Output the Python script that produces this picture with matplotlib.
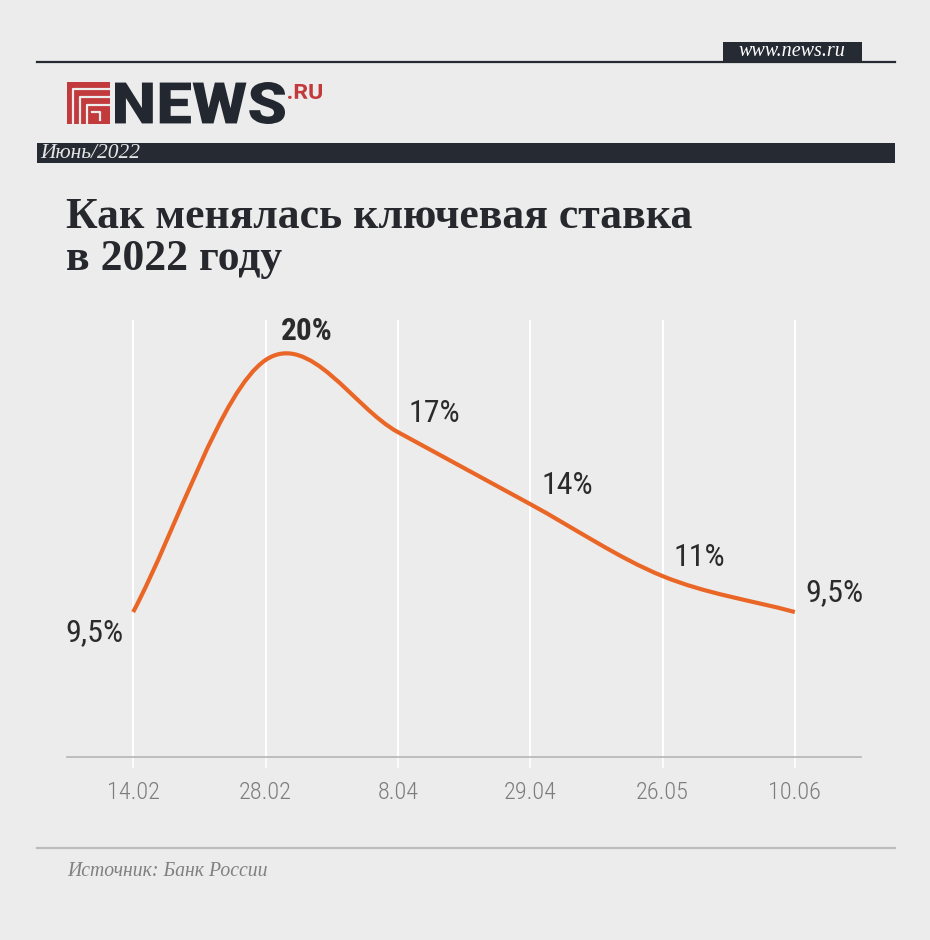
import matplotlib
matplotlib.use('Agg')
import matplotlib.pyplot as plt
from matplotlib.path import Path
from matplotlib.patches import PathPatch, Rectangle
from matplotlib.textpath import TextPath
from matplotlib.font_manager import FontProperties
from matplotlib.transforms import Affine2D

dates = ['14.02', '28.02', '8.04', '29.04', '26.05', '10.06']
rates = [9.5, 20, 17, 14, 11, 9.5]
rate_labels = ['9,5%', '20%', '17%', '14%', '11%', '9,5%']

BG = '#ececec'
DARK = '#262a33'
ORANGE = '#ea6626'
RED = '#c23a3c'
SANS = ['Roboto Condensed', 'Liberation Sans', 'DejaVu Sans']


def smooth_path(xs, ys):
    # Catmull-Rom tangents turned into cubic Bezier segments
    n = len(xs)
    m = []
    for i in range(n):
        a = max(i - 1, 0)
        b = min(i + 1, n - 1)
        k = 0.5 if 0 < i < n - 1 else 1.0
        m.append(((xs[b] - xs[a]) * k, (ys[b] - ys[a]) * k))
    verts = [(xs[0], ys[0])]
    codes = [Path.MOVETO]
    for i in range(n - 1):
        verts.append((xs[i] + m[i][0] / 3, ys[i] + m[i][1] / 3))
        verts.append((xs[i + 1] - m[i + 1][0] / 3, ys[i + 1] - m[i + 1][1] / 3))
        verts.append((xs[i + 1], ys[i + 1]))
        codes += [Path.CURVE4] * 3
    return Path(verts, codes)


def fit_text(ax, s, x0, y0, x1, y1, prop, color):
    tp = TextPath((0, 0), s, prop=prop)
    ext = tp.get_extents()
    sx = (x1 - x0) / ext.width
    sy = (y1 - y0) / ext.height
    tr = Affine2D().translate(-ext.x0, -ext.y0).scale(sx, -sy).translate(x0, y1)
    ax.add_patch(PathPatch(tr.transform_path(tp), fc=color, ec='none'))


fig = plt.figure(figsize=(9.3, 9.4), dpi=100)
fig.patch.set_facecolor(BG)

# overlay in pixel coordinates for the page furniture
ov = fig.add_axes([0, 0, 1, 1])
ov.set_xlim(0, 930)
ov.set_ylim(940, 0)
ov.axis('off')
ov.set_zorder(0)

ov.plot([37, 895], [62, 62], color=DARK, lw=1.6)
ov.add_patch(Rectangle((723, 42), 139, 19, fc=DARK, ec='none'))
ov.text(792, 51.5, 'www.news.ru', color='white', fontsize=14.5, style='italic',
        family='Liberation Serif', ha='center', va='center')

# logo
ov.add_patch(Rectangle((67, 82), 43, 42, fc=RED, ec='none'))
for xg, yg in [(73, 89), (80, 97), (87, 105)]:
    ov.plot([xg, xg, 110], [124, yg, yg], color=BG, lw=1.6)
ov.plot([92, 100, 100], [112, 112, 120], color=BG, lw=1.6)
fit_text(ov, 'NEWS', 115, 82, 285, 124,
         FontProperties(family=['Roboto', 'DejaVu Sans'], weight=900), '#232830')
fit_text(ov, '.RU', 288, 84, 322, 99,
         FontProperties(family=['Roboto', 'DejaVu Sans'], weight='bold'), RED)

ov.add_patch(Rectangle((37, 143), 858, 20, fc=DARK, ec='none'))
ov.text(40, 154, 'Июнь/2022', color='#e6e6e6', fontsize=15.5, style='italic',
        family='Liberation Serif', ha='left', va='center')

ov.text(66, 228, 'Как менялась ключевая ставка', color='#26282d', fontsize=31.5,
        weight='bold', family='Liberation Serif', ha='left', va='baseline')
ov.text(66, 270, 'в 2022 году', color='#26282d', fontsize=31.5,
        weight='bold', family='Liberation Serif', ha='left', va='baseline')

ov.plot([37, 895], [848, 848], color='#bcbcbc', lw=1.6)
ov.text(67, 871, 'Источник: Банк России', color='#808080', fontsize=14.2,
        style='italic', family='Liberation Serif', ha='left', va='center')

# chart
ax = fig.add_axes([67 / 930, (940 - 757) / 940, 794 / 930, 437 / 940])
ax.set_zorder(1)
ax.patch.set_alpha(0)
xs = list(range(len(dates)))
ax.set_xlim(-0.5, 5.5)
ax.set_ylim(3.46, 21.67)
ax.grid(axis='x', color='white', lw=1.5)
ax.set_axisbelow(True)
for side in ['top', 'left', 'right']:
    ax.spines[side].set_visible(False)
ax.spines['bottom'].set_color('#b5b5b5')
ax.spines['bottom'].set_linewidth(1.2)
ax.set_yticks([])
ax.set_xticks(xs, dates)
ax.tick_params(axis='x', direction='out', length=8, width=1.2, color='white',
               pad=9, labelsize=17.5, labelcolor='#7d7d7d')
for lbl in ax.get_xticklabels():
    lbl.set_family(SANS)
    lbl.set_weight('light')

ax.add_patch(PathPatch(smooth_path(xs, rates), fc='none', ec=ORANGE, lw=3,
                       capstyle='butt', zorder=3))

for i, (x, y, s) in enumerate(zip(xs, rates, rate_labels)):
    if i == 0:
        off, ha, w, fs = (-10, -21), 'right', 'normal', 23
    elif i == 1:
        off, ha, w, fs = (15, 29), 'left', 'bold', 22.5
    else:
        off, ha, w, fs = (11, 19), 'left', 'normal', 23
    ax.annotate(s, (x, y), xytext=off, textcoords='offset pixels', ha=ha,
                va='center', fontsize=fs, weight=w, color='#2b2b2b', family=SANS)

fig.savefig('out.png', dpi=100, facecolor=BG)
